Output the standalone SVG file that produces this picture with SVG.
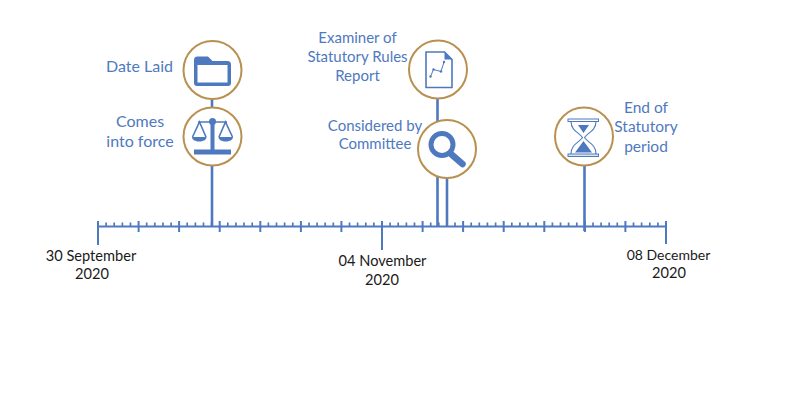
<svg xmlns="http://www.w3.org/2000/svg" width="790" height="400" viewBox="0 0 790 400">
<style>
text{font-family:"Lato","Liberation Sans",sans-serif;text-anchor:middle}
.l{fill:#4f79bf;font-size:15px}
.b{font-size:16px}
.d{fill:#1a1a1a;font-size:14.6px}
.c{fill:#fff;stroke:#b8904f;stroke-width:2}
.s{stroke:#4f79bf;stroke-width:2.6;fill:none}
.a{stroke:#4f79bf;stroke-width:2;fill:none}
.m{stroke:#4f79bf;stroke-width:1.7;fill:none}
.f{fill:#4f79bf}
.i{stroke:#4f79bf;fill:none}
</style>
<g id="connectors">
<path class="a" d="M98 226.500H666"/>
<path class="a" d="M98 221V245M138.600 221V232M179.100 221V232M219.700 221V232M260.300 221V232M300.900 221V232M341.400 221V232M382 221V250M422.600 221V232M463.100 221V232M503.700 221V232M544.300 221V232M584.900 221V232M625.400 221V232M666 221V244"/>
<path class="m" d="M106.100 226V222.500M114.200 226V222.500M122.400 226V222.500M130.500 226V222.500M146.700 226V222.500M154.800 226V222.500M163 226V222.500M171.100 226V222.500M187.200 226V222.500M195.400 226V222.500M203.500 226V222.500M211.600 226V222.500M227.800 226V222.500M235.900 226V222.500M244 226V222.500M252.200 226V222.500M268.400 226V222.500M276.500 226V222.500M284.600 226V222.500M292.800 226V222.500M309 226V222.500M317.100 226V222.500M325.200 226V222.500M333.300 226V222.500M349.500 226V222.500M357.600 226V222.500M365.800 226V222.500M373.900 226V222.500M390.100 226V222.500M398.200 226V222.500M406.400 226V222.500M414.500 226V222.500M430.700 226V222.500M438.800 226V222.500M446.900 226V222.500M455 226V222.500M471.200 226V222.500M479.300 226V222.500M487.400 226V222.500M495.600 226V222.500M511.800 226V222.500M519.900 226V222.500M528 226V222.500M536.200 226V222.500M552.400 226V222.500M560.500 226V222.500M568.600 226V222.500M576.800 226V222.500M593 226V222.500M601.100 226V222.500M609.200 226V222.500M617.300 226V222.500M633.500 226V222.500M641.600 226V222.500M649.800 226V222.500M657.900 226V222.500"/>
<path class="s" d="M212 98V226M437.500 98V226M447 176V226M584.500 164V231"/>
</g>
<g id="date-laid">
<circle class="c" cx="212.500" cy="70" r="29"/>
<path class="f" d="M194 60a3.500 3.500 0 0 1 3.500-3.500H208l4.500 4.500h15a3.500 3.500 0 0 1 3.500 3.500V83a3 3 0 0 1-3 3H197a3 3 0 0 1-3-3Z"/>
<rect x="197.500" y="65" width="30" height="17.500" fill="#fff"/>
<text class="l b" x="139.500" y="72">Date Laid</text>
</g>
<g id="comes-into-force">
<circle class="c" cx="212.500" cy="136.500" r="29"/>
<path class="f" d="M210.500 124h4v26h-4ZM194 149.500h37v5h-37Z"/>
<circle class="f" cx="212.500" cy="121.500" r="3.500"/>
<path class="i" stroke-width="1.600" d="M198 122H227M192.500 137L199.500 122L206 137M219 137L225.500 122L232.500 137"/>
<path class="f" d="M192 137h14.500c0 6-14.500 6-14.500 0ZM218.500 137h14.500c0 6-14.500 6-14.500 0Z"/>
<text class="l b" x="140" y="127">Comes</text>
<text class="l b" x="140" y="147">into force</text>
</g>
<g id="examiner-report">
<circle class="c" cx="438" cy="69.500" r="29"/>
<path class="i" stroke-width="1.600" d="M426 52H444.500L452 59.500V87.500H426Z"/>
<path class="f" d="M444.500 51.500L452.500 59.500H444.500Z"/>
<path class="i" stroke-width="1" d="M430.500 76.500L433.500 69.500L441 71.500L444 62"/>
<circle class="f" cx="430.500" cy="76.500" r="1.200"/><circle class="f" cx="433.500" cy="69.500" r="1.200"/><circle class="f" cx="441" cy="71.500" r="1.200"/><circle class="f" cx="444" cy="62" r="1.200"/>
<text class="l" x="357.500" y="43">Examiner of</text>
<text class="l" x="357.500" y="62">Statutory Rules</text>
<text class="l" x="357.500" y="81">Report</text>
</g>
<g id="considered-by-committee">
<circle class="c" cx="447" cy="149" r="29"/>
<circle cx="442" cy="144.500" r="11" fill="none" stroke="#4f79bf" stroke-width="5"/>
<path d="M451 154L462.500 164" stroke="#4f79bf" stroke-width="6.500" stroke-linecap="round" fill="none"/>
<text class="l" x="375" y="131">Considered by</text>
<text class="l" x="375" y="149">Committee</text>
</g>
<g id="end-of-statutory-period">
<circle class="c" cx="584" cy="136.500" r="29"/>
<rect x="568" y="119" width="30.500" height="2.500" fill="#fff" stroke="#4f79bf" stroke-width="1"/>
<rect x="568" y="154" width="30.500" height="2.500" fill="#dbe4f3" stroke="#4f79bf" stroke-width="1"/>
<path class="i" stroke-width="1.100" d="M571 121.500C571 131 580 133 582.500 137.500C580 142 571 144 571 154M596 121.500C596 131 587 133 584.500 137.500C587 142 596 144 596 154"/>
<path class="f" d="M578 125H589L583.500 133ZM583.500 141L592 152.500H575Z"/>
<text class="l" x="646" y="113" style="font-size:15.500px">End of</text>
<text class="l" x="646" y="132" style="font-size:15.500px">Statutory</text>
<text class="l" x="646" y="152" style="font-size:15.500px">period</text>
</g>
<g id="date-start">
<text class="d" x="91" y="261">30 September</text>
<text class="d" x="92" y="279">2020</text>
</g>
<g id="date-middle">
<text class="d" x="382.500" y="266">04 November</text>
<text class="d" x="382" y="285">2020</text>
</g>
<g id="date-end">
<text class="d" x="668.500" y="260" style="font-size:14px">08 December</text>
<text class="d" x="669" y="278">2020</text>
</g>
</svg>
